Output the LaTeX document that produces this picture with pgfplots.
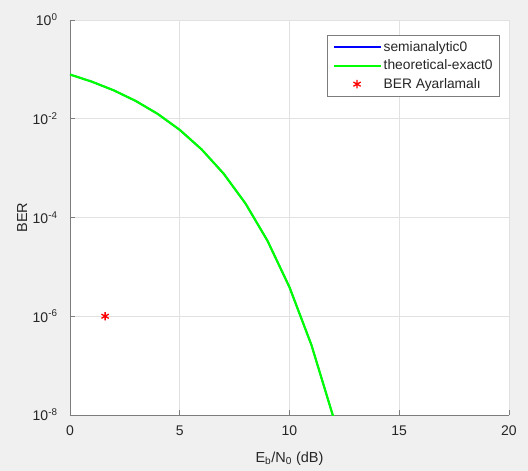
\documentclass[border=0pt]{standalone}
\usepackage{fontspec}
\setmainfont{Liberation Sans}
\usepackage{pgfplots}
\pgfplotsset{compat=1.18}
\definecolor{figbg}{RGB}{240,240,240}
\definecolor{txt}{RGB}{38,38,38}
\definecolor{axc}{RGB}{125,125,125}
\definecolor{gridc}{RGB}{225,225,225}
\definecolor{semiblue}{RGB}{0,0,255}
\definecolor{thgreen}{RGB}{0,255,0}
\pgfplotstableread{
x y
0 7.865e-2
1 5.628e-2
2 3.751e-2
3 2.288e-2
4 1.250e-2
5 5.954e-3
6 2.388e-3
7 7.727e-4
8 1.909e-4
9 3.363e-5
10 3.872e-6
11 2.613e-7
12 9.006e-9
13 6.676e-11
}\bertable
\begin{document}
\begin{tikzpicture}
\fill[figbg] (-70pt,-56pt) rectangle (458pt,415pt);
\begin{semilogyaxis}[
  scale only axis, width=439pt, height=395pt,
  xmin=0, xmax=20, ymin=1e-8, ymax=1,
  axis x line*=bottom, axis y line*=left,
  axis line style={-, axc, line width=0.9pt},
  axis background/.style={fill=white},
  xtick={0,5,10,15,20},
  ytick={1,1e-2,1e-4,1e-6,1e-8},
  yticklabels={10\textsuperscript{0},10\textsuperscript{-2},10\textsuperscript{-4},10\textsuperscript{-6},10\textsuperscript{-8}},
  minor ytick={}, minor xtick={},
  grid=major,
  major grid style={gridc, line width=0.7pt},
  major tick length=5pt,
  tick style={axc, line width=0.8pt},
  /pgf/number format/assume math mode=true,
  xticklabel style={font=\fontsize{14}{16}\selectfont, text=txt, yshift=-7pt},
  yticklabel style={font=\fontsize{14}{16}\selectfont, text=txt, xshift=-9pt},
  xlabel={E\textsubscript{b}/N\textsubscript{0} (dB)},
  ylabel={BER},
  xlabel style={font=\fontsize{14.5}{16}\selectfont, text=txt, at={(axis description cs:0.5,-0.111)}, anchor=center},
  ylabel style={font=\fontsize{14.5}{16}\selectfont, text=txt, at={(axis description cs:-0.109,0.5)}, anchor=center},
  legend image code/.code={\draw[mark repeat=2,mark phase=2,#1] plot coordinates {(0pt,0pt) (23.5pt,0pt) (47pt,0pt)};},
  legend style={at={(1,1)}, xshift=-9pt, yshift=-15pt, anchor=north east,
    draw=axc, line width=0.8pt, fill=white, text=txt,
    font=\fontsize{13.8}{16}\selectfont, inner xsep=5pt, inner ysep=4pt,
    row sep=3pt, nodes={inner sep=2pt}},
  legend cell align=left,
]
\addplot[semiblue, line width=1.5pt] table[x=x, y=y] {\bertable};
\addlegendentry{semianalytic0}
\addplot[thgreen, line width=2.2pt] table[x=x, y=y] {\bertable};
\addlegendentry{theoretical-exact0}
\addplot[only marks, red, mark=asterisk, mark size=4.2pt, line width=1.3pt] coordinates {(1.6,1e-6)};
\addlegendentry{BER Ayarlamalı}
\end{semilogyaxis}
\end{tikzpicture}
\end{document}
